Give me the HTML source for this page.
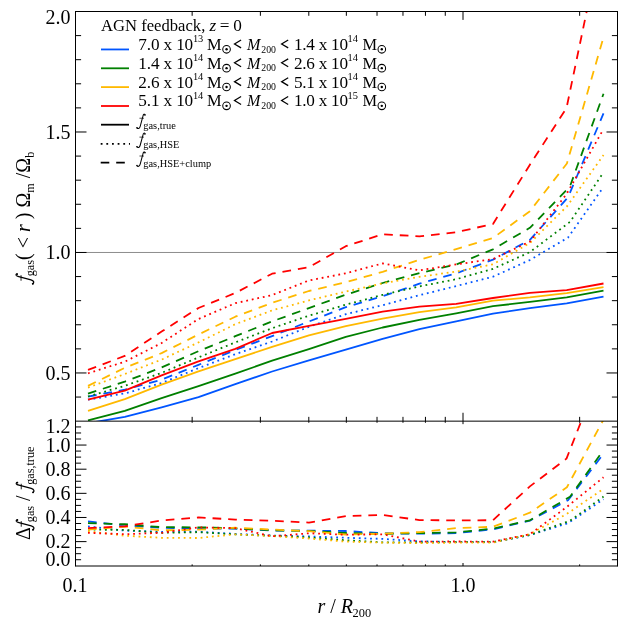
<!DOCTYPE html>
<html><head><meta charset="utf-8"><title>fgas</title>
<style>html,body{margin:0;padding:0;background:#fff;width:629px;height:629px;overflow:hidden}</style>
</head><body>
<svg width="629" height="629" viewBox="0 0 629 629" style="position:absolute;left:0;top:0">
<defs><clipPath id="cu"><rect x="75.5" y="11.5" width="542.0" height="409.6"/></clipPath><clipPath id="cl"><rect x="75.5" y="421.1" width="542.0" height="144.9"/></clipPath></defs>
<defs><g id="fi"><path d="M398 632 C392 668 358 688 326 672 C290 652 276 600 262 540 L98 -70 C82 -130 55 -190 2 -203 C-40 -213 -84 -196 -104 -166" fill="none" stroke="#000" stroke-width="64" stroke-linecap="round"/><circle cx="386" cy="622" r="46"/><circle cx="-98" cy="-158" r="46"/><path d="M52 428 L330 428" stroke="#000" stroke-width="44" fill="none"/></g></defs>
<rect width="629" height="629" fill="#fff"/>
<line x1="75.5" y1="252.47" x2="617.5" y2="252.47" stroke="#8c8c8c" stroke-width="1"/>
<g clip-path="url(#cu)" fill="none" stroke-width="1.80" stroke-linejoin="round">
<path d="M88.0 423.2 L124.8 416.9 L161.6 407.3 L198.5 397.2 L235.3 384.1 L272.1 371.5 L308.9 360.3 L345.8 349.6 L382.6 338.8 L419.4 329.2 L456.2 321.4 L493.0 313.7 L529.9 308.1 L566.7 303.3 L603.5 296.7" stroke="#0055ff"/>
<path d="M88.0 399.7 L124.8 393.4 L161.6 383.0 L198.5 368.1 L235.3 354.2 L272.1 341.5 L308.9 326.8 L345.8 314.2 L382.6 305.2 L419.4 295.2 L456.2 286.1 L493.0 276.7 L529.9 260.0 L568.0 237.6 L603.5 186.9" stroke="#0055ff" stroke-dasharray="1.8 3.85"/>
<path d="M88.0 396.6 L124.8 389.7 L161.6 379.7 L198.5 364.8 L235.3 350.0 L272.1 336.1 L308.9 321.5 L345.8 307.2 L382.6 296.2 L419.4 283.7 L456.2 273.3 L493.0 259.6 L529.9 239.9 L568.0 197.4 L603.5 113.4" stroke="#0055ff" stroke-dasharray="8.7 6.95"/>
<path d="M88.0 420.4 L124.8 410.9 L161.6 398.2 L198.5 386.1 L235.3 373.6 L272.1 360.7 L308.9 349.1 L345.8 336.9 L382.6 327.5 L419.4 319.8 L456.2 313.4 L493.0 306.2 L529.9 301.9 L566.7 297.4 L603.5 290.7" stroke="#008000"/>
<path d="M88.0 396.5 L124.8 385.8 L161.6 372.9 L198.5 357.4 L235.3 342.4 L272.1 328.2 L308.9 315.7 L345.8 304.7 L382.6 294.9 L419.4 286.4 L456.2 279.2 L493.0 268.9 L529.9 252.1 L570.0 221.9 L603.5 172.5" stroke="#008000" stroke-dasharray="1.8 3.85"/>
<path d="M88.0 393.6 L124.8 381.6 L161.6 367.5 L198.5 351.2 L235.3 336.2 L272.1 321.4 L308.9 308.1 L345.8 294.7 L382.6 283.0 L419.4 273.1 L456.2 264.5 L493.0 249.3 L529.9 227.8 L570.0 186.3 L603.5 93.8" stroke="#008000" stroke-dasharray="8.7 6.95"/>
<path d="M88.0 410.8 L124.8 399.1 L161.6 384.7 L198.5 371.4 L235.3 359.1 L272.1 346.8 L308.9 335.3 L345.8 326.1 L382.6 318.6 L419.4 312.1 L456.2 307.3 L493.0 300.6 L529.9 297.4 L566.7 293.1 L603.5 287.2" stroke="#ffb900"/>
<path d="M88.0 387.6 L124.8 374.0 L161.6 359.6 L198.5 342.4 L235.3 324.2 L272.1 310.4 L308.9 300.4 L345.8 291.6 L382.6 283.3 L419.4 276.8 L456.2 271.6 L493.0 264.3 L529.9 243.0 L566.9 206.4 L603.5 155.1" stroke="#ffb900" stroke-dasharray="1.8 3.85"/>
<path d="M88.0 385.9 L124.8 367.8 L161.6 353.1 L198.5 334.5 L235.3 316.7 L272.1 302.8 L308.9 291.0 L345.8 282.3 L382.6 271.8 L419.4 259.9 L456.2 249.1 L493.0 238.0 L529.9 211.2 L566.9 163.5 L603.5 37.3" stroke="#ffb900" stroke-dasharray="8.7 6.95"/>
<path d="M88.0 399.7 L124.8 390.6 L161.6 375.3 L198.5 361.3 L235.3 348.8 L272.1 333.0 L308.9 325.8 L345.8 318.8 L382.6 311.6 L419.4 306.6 L456.2 303.9 L493.0 298.0 L529.9 292.8 L566.7 290.1 L603.5 283.5" stroke="#ff0000"/>
<path d="M88.0 373.3 L124.8 361.7 L161.6 343.0 L198.5 319.0 L235.3 303.2 L272.1 295.1 L308.9 280.5 L345.8 273.3 L382.6 263.4 L419.4 270.4 L456.2 264.4 L493.0 259.1 L529.9 241.6 L566.5 194.1 L603.5 129.1" stroke="#ff0000" stroke-dasharray="1.8 3.85"/>
<path d="M88.0 369.9 L124.8 355.9 L161.6 331.6 L198.5 308.0 L235.3 293.0 L272.1 273.7 L308.9 267.3 L345.8 246.2 L382.6 234.3 L419.4 236.3 L456.2 232.3 L493.0 223.9 L529.9 164.7 L566.5 108.1 L603.5 -69.0" stroke="#ff0000" stroke-dasharray="8.7 6.95"/>
</g>
<g clip-path="url(#cl)" fill="none" stroke-width="1.80" stroke-linejoin="round">
<path d="M88.0 526.4 L124.8 530.6 L161.6 531.8 L198.5 531.7 L235.3 533.9 L272.1 535.5 L308.9 536.4 L345.8 537.8 L382.6 538.9 L419.4 541.3 L456.2 542.1 L493.0 542.2 L529.9 535.1 L568.0 523.2 L603.5 499.2" stroke="#0055ff" stroke-dasharray="1.8 3.85"/>
<path d="M88.0 521.3 L124.8 525.6 L161.6 527.8 L198.5 528.6 L235.3 528.7 L272.1 530.5 L308.9 530.7 L345.8 531.0 L382.6 533.3 L419.4 533.7 L456.2 533.1 L493.0 529.3 L529.9 520.6 L568.0 500.3 L603.5 453.8" stroke="#0055ff" stroke-dasharray="8.7 6.95"/>
<path d="M88.0 529.6 L124.8 529.9 L161.6 532.8 L198.5 532.2 L235.3 534.4 L272.1 535.8 L308.9 537.4 L345.8 540.3 L382.6 542.3 L419.4 542.5 L456.2 542.1 L493.0 542.2 L529.9 534.9 L570.0 520.8 L603.5 496.6" stroke="#008000" stroke-dasharray="1.8 3.85"/>
<path d="M88.0 523.2 L124.8 524.2 L161.6 527.2 L198.5 527.3 L235.3 528.3 L272.1 530.3 L308.9 530.9 L345.8 533.0 L382.6 533.8 L419.4 533.1 L456.2 532.4 L493.0 528.6 L529.9 520.3 L570.0 496.8 L603.5 450.1" stroke="#008000" stroke-dasharray="8.7 6.95"/>
<path d="M88.0 531.2 L124.8 535.7 L161.6 537.8 L198.5 538.0 L235.3 534.3 L272.1 536.1 L308.9 538.5 L345.8 541.6 L382.6 542.6 L419.4 543.1 L456.2 542.7 L493.0 542.7 L529.9 534.1 L566.9 513.9 L603.5 488.8" stroke="#ffb900" stroke-dasharray="1.8 3.85"/>
<path d="M88.0 529.6 L124.8 526.5 L161.6 530.3 L198.5 529.7 L235.3 527.7 L272.1 529.5 L308.9 531.2 L345.8 534.5 L382.6 533.7 L419.4 532.1 L456.2 528.1 L493.0 526.8 L529.9 512.7 L566.9 487.3 L603.5 419.6" stroke="#ffb900" stroke-dasharray="8.7 6.95"/>
<path d="M88.0 532.8 L124.8 534.2 L161.6 532.8 L198.5 527.4 L235.3 528.1 L272.1 536.3 L308.9 533.3 L345.8 534.7 L382.6 534.3 L419.4 541.6 L456.2 541.5 L493.0 541.6 L529.9 534.2 L566.5 507.2 L603.5 477.3" stroke="#ff0000" stroke-dasharray="1.8 3.85"/>
<path d="M88.0 528.1 L124.8 526.3 L161.6 520.5 L198.5 517.4 L235.3 519.6 L272.1 520.7 L308.9 522.6 L345.8 516.1 L382.6 514.9 L419.4 520.1 L456.2 520.4 L493.0 520.2 L529.9 486.4 L566.5 458.6 L603.5 364.9" stroke="#ff0000" stroke-dasharray="8.7 6.95"/>
</g>
<path d="M75.50 11.50 L617.50 11.50 M75.50 421.15 L617.50 421.15 M75.50 566.00 L617.50 566.00 M75.50 11.00 L75.50 566.50 M617.50 11.00 L617.50 566.50 M192.15 11.50 L192.15 15.80 M192.15 421.15 L192.15 416.85 M192.15 421.15 L192.15 422.75 M192.15 566.00 L192.15 564.40 M260.38 11.50 L260.38 15.80 M260.38 421.15 L260.38 416.85 M260.38 421.15 L260.38 422.75 M260.38 566.00 L260.38 564.40 M308.80 11.50 L308.80 15.80 M308.80 421.15 L308.80 416.85 M308.80 421.15 L308.80 422.75 M308.80 566.00 L308.80 564.40 M346.35 11.50 L346.35 15.80 M346.35 421.15 L346.35 416.85 M346.35 421.15 L346.35 422.75 M346.35 566.00 L346.35 564.40 M377.03 11.50 L377.03 15.80 M377.03 421.15 L377.03 416.85 M377.03 421.15 L377.03 422.75 M377.03 566.00 L377.03 564.40 M402.98 11.50 L402.98 15.80 M402.98 421.15 L402.98 416.85 M402.98 421.15 L402.98 422.75 M402.98 566.00 L402.98 564.40 M425.45 11.50 L425.45 15.80 M425.45 421.15 L425.45 416.85 M425.45 421.15 L425.45 422.75 M425.45 566.00 L425.45 564.40 M445.27 11.50 L445.27 15.80 M445.27 421.15 L445.27 416.85 M445.27 421.15 L445.27 422.75 M445.27 566.00 L445.27 564.40 M463.00 11.50 L463.00 19.90 M463.00 421.15 L463.00 412.75 M463.00 421.15 L463.00 424.15 M463.00 566.00 L463.00 563.00 M579.65 11.50 L579.65 15.80 M579.65 421.15 L579.65 416.85 M579.65 421.15 L579.65 422.75 M579.65 566.00 L579.65 564.40 M75.50 397.05 L81.10 397.05 M617.50 397.05 L611.90 397.05 M75.50 372.96 L86.50 372.96 M617.50 372.96 L606.50 372.96 M75.50 348.86 L81.10 348.86 M617.50 348.86 L611.90 348.86 M75.50 324.76 L81.10 324.76 M617.50 324.76 L611.90 324.76 M75.50 300.66 L81.10 300.66 M617.50 300.66 L611.90 300.66 M75.50 276.57 L81.10 276.57 M617.50 276.57 L611.90 276.57 M75.50 252.47 L86.50 252.47 M617.50 252.47 L606.50 252.47 M75.50 228.37 L81.10 228.37 M617.50 228.37 L611.90 228.37 M75.50 204.28 L81.10 204.28 M617.50 204.28 L611.90 204.28 M75.50 180.18 L81.10 180.18 M617.50 180.18 L611.90 180.18 M75.50 156.08 L81.10 156.08 M617.50 156.08 L611.90 156.08 M75.50 131.99 L86.50 131.99 M617.50 131.99 L606.50 131.99 M75.50 107.89 L81.10 107.89 M617.50 107.89 L611.90 107.89 M75.50 83.79 L81.10 83.79 M617.50 83.79 L611.90 83.79 M75.50 59.69 L81.10 59.69 M617.50 59.69 L611.90 59.69 M75.50 35.60 L81.10 35.60 M617.50 35.60 L611.90 35.60 M75.50 559.72 L81.10 559.72 M617.50 559.72 L611.90 559.72 M75.50 553.68 L81.10 553.68 M617.50 553.68 L611.90 553.68 M75.50 547.64 L81.10 547.64 M617.50 547.64 L611.90 547.64 M75.50 541.61 L86.50 541.61 M617.50 541.61 L606.50 541.61 M75.50 535.58 L81.10 535.58 M617.50 535.58 L611.90 535.58 M75.50 529.54 L81.10 529.54 M617.50 529.54 L611.90 529.54 M75.50 523.50 L81.10 523.50 M617.50 523.50 L611.90 523.50 M75.50 517.47 L86.50 517.47 M617.50 517.47 L606.50 517.47 M75.50 511.44 L81.10 511.44 M617.50 511.44 L611.90 511.44 M75.50 505.40 L81.10 505.40 M617.50 505.40 L611.90 505.40 M75.50 499.37 L81.10 499.37 M617.50 499.37 L611.90 499.37 M75.50 493.33 L86.50 493.33 M617.50 493.33 L606.50 493.33 M75.50 487.30 L81.10 487.30 M617.50 487.30 L611.90 487.30 M75.50 481.26 L81.10 481.26 M617.50 481.26 L611.90 481.26 M75.50 475.23 L81.10 475.23 M617.50 475.23 L611.90 475.23 M75.50 469.19 L86.50 469.19 M617.50 469.19 L606.50 469.19 M75.50 463.15 L81.10 463.15 M617.50 463.15 L611.90 463.15 M75.50 457.12 L81.10 457.12 M617.50 457.12 L611.90 457.12 M75.50 451.08 L81.10 451.08 M617.50 451.08 L611.90 451.08 M75.50 445.05 L86.50 445.05 M617.50 445.05 L606.50 445.05 M75.50 439.01 L81.10 439.01 M617.50 439.01 L611.90 439.01 M75.50 432.98 L81.10 432.98 M617.50 432.98 L611.90 432.98 M75.50 426.94 L81.10 426.94 M617.50 426.94 L611.90 426.94" stroke="#000" stroke-width="1" fill="none"/>
<line x1="101.0" y1="49.45" x2="129.0" y2="49.45" stroke="#0055ff" stroke-width="1.80"/>
<line x1="101.0" y1="68.30" x2="129.0" y2="68.30" stroke="#008000" stroke-width="1.80"/>
<line x1="101.0" y1="87.10" x2="129.0" y2="87.10" stroke="#ffb900" stroke-width="1.80"/>
<line x1="101.0" y1="106.00" x2="129.0" y2="106.00" stroke="#ff0000" stroke-width="1.80"/>
<line x1="101.0" y1="124.70" x2="129.0" y2="124.70" stroke="#000" stroke-width="1.80"/>
<line x1="100.7" y1="143.90" x2="130.0" y2="143.90" stroke="#000" stroke-width="1.80" stroke-dasharray="1.8 3.85"/>
<line x1="100.7" y1="162.70" x2="129.0" y2="162.70" stroke="#000" stroke-width="1.80" stroke-dasharray="8.6 6.9"/>
<g font-family="'Liberation Serif', serif" fill="#000" opacity="0.999">
<text x="101.1" y="31.20" font-size="17.20" textLength="104.2" lengthAdjust="spacingAndGlyphs">AGN feedback,</text>
<text x="209.40" y="31.20" font-size="17.20" text-anchor="start" font-style="italic">z</text>
<text x="219.80" y="31.20" font-size="17.20" text-anchor="start">=</text>
<text x="233.20" y="31.20" font-size="17.20" text-anchor="start">0</text>
<text x="138.30" y="49.90" font-size="17.20" text-anchor="start" textLength="54.9" lengthAdjust="spacing">7.0 x 10</text>
<text x="192.90" y="42.30" font-size="10.40" text-anchor="start">13</text>
<text x="207.10" y="49.90" font-size="17.20" text-anchor="start" textLength="14.6" lengthAdjust="spacingAndGlyphs">M</text>
<circle cx="226.55" cy="49.30" r="3.8" fill="none" stroke="#000" stroke-width="1.05"/><circle cx="226.55" cy="49.30" r="1.2" fill="#000"/>
<path d="M241.10 40.00 L234.50 43.95 L241.10 47.90" fill="none" stroke="#000" stroke-width="1.25" stroke-linejoin="miter"/>
<text x="246.90" y="49.90" font-size="17.20" text-anchor="start" font-style="italic" textLength="13.4" lengthAdjust="spacingAndGlyphs">M</text>
<text x="261.30" y="52.50" font-size="9.80" text-anchor="start">200</text>
<path d="M288.20 40.00 L281.60 43.95 L288.20 47.90" fill="none" stroke="#000" stroke-width="1.25" stroke-linejoin="miter"/>
<text x="294.00" y="49.90" font-size="17.20" text-anchor="start" textLength="54.0" lengthAdjust="spacing">1.4 x 10</text>
<text x="347.60" y="42.30" font-size="10.40" text-anchor="start">14</text>
<text x="362.50" y="49.90" font-size="17.20" text-anchor="start" textLength="14.6" lengthAdjust="spacingAndGlyphs">M</text>
<circle cx="381.80" cy="49.30" r="3.8" fill="none" stroke="#000" stroke-width="1.05"/><circle cx="381.80" cy="49.30" r="1.2" fill="#000"/>
<text x="138.30" y="68.75" font-size="17.20" text-anchor="start" textLength="54.9" lengthAdjust="spacing">1.4 x 10</text>
<text x="192.90" y="61.15" font-size="10.40" text-anchor="start">14</text>
<text x="207.10" y="68.75" font-size="17.20" text-anchor="start" textLength="14.6" lengthAdjust="spacingAndGlyphs">M</text>
<circle cx="226.55" cy="68.15" r="3.8" fill="none" stroke="#000" stroke-width="1.05"/><circle cx="226.55" cy="68.15" r="1.2" fill="#000"/>
<path d="M241.10 58.85 L234.50 62.80 L241.10 66.75" fill="none" stroke="#000" stroke-width="1.25" stroke-linejoin="miter"/>
<text x="246.90" y="68.75" font-size="17.20" text-anchor="start" font-style="italic" textLength="13.4" lengthAdjust="spacingAndGlyphs">M</text>
<text x="261.30" y="71.35" font-size="9.80" text-anchor="start">200</text>
<path d="M288.20 58.85 L281.60 62.80 L288.20 66.75" fill="none" stroke="#000" stroke-width="1.25" stroke-linejoin="miter"/>
<text x="294.00" y="68.75" font-size="17.20" text-anchor="start" textLength="54.0" lengthAdjust="spacing">2.6 x 10</text>
<text x="347.60" y="61.15" font-size="10.40" text-anchor="start">14</text>
<text x="362.50" y="68.75" font-size="17.20" text-anchor="start" textLength="14.6" lengthAdjust="spacingAndGlyphs">M</text>
<circle cx="381.80" cy="68.15" r="3.8" fill="none" stroke="#000" stroke-width="1.05"/><circle cx="381.80" cy="68.15" r="1.2" fill="#000"/>
<text x="138.30" y="87.60" font-size="17.20" text-anchor="start" textLength="54.9" lengthAdjust="spacing">2.6 x 10</text>
<text x="192.90" y="80.00" font-size="10.40" text-anchor="start">14</text>
<text x="207.10" y="87.60" font-size="17.20" text-anchor="start" textLength="14.6" lengthAdjust="spacingAndGlyphs">M</text>
<circle cx="226.55" cy="87.00" r="3.8" fill="none" stroke="#000" stroke-width="1.05"/><circle cx="226.55" cy="87.00" r="1.2" fill="#000"/>
<path d="M241.10 77.70 L234.50 81.65 L241.10 85.60" fill="none" stroke="#000" stroke-width="1.25" stroke-linejoin="miter"/>
<text x="246.90" y="87.60" font-size="17.20" text-anchor="start" font-style="italic" textLength="13.4" lengthAdjust="spacingAndGlyphs">M</text>
<text x="261.30" y="90.20" font-size="9.80" text-anchor="start">200</text>
<path d="M288.20 77.70 L281.60 81.65 L288.20 85.60" fill="none" stroke="#000" stroke-width="1.25" stroke-linejoin="miter"/>
<text x="294.00" y="87.60" font-size="17.20" text-anchor="start" textLength="54.0" lengthAdjust="spacing">5.1 x 10</text>
<text x="347.60" y="80.00" font-size="10.40" text-anchor="start">14</text>
<text x="362.50" y="87.60" font-size="17.20" text-anchor="start" textLength="14.6" lengthAdjust="spacingAndGlyphs">M</text>
<circle cx="381.80" cy="87.00" r="3.8" fill="none" stroke="#000" stroke-width="1.05"/><circle cx="381.80" cy="87.00" r="1.2" fill="#000"/>
<text x="138.30" y="106.45" font-size="17.20" text-anchor="start" textLength="54.9" lengthAdjust="spacing">5.1 x 10</text>
<text x="192.90" y="98.85" font-size="10.40" text-anchor="start">14</text>
<text x="207.10" y="106.45" font-size="17.20" text-anchor="start" textLength="14.6" lengthAdjust="spacingAndGlyphs">M</text>
<circle cx="226.55" cy="105.85" r="3.8" fill="none" stroke="#000" stroke-width="1.05"/><circle cx="226.55" cy="105.85" r="1.2" fill="#000"/>
<path d="M241.10 96.55 L234.50 100.50 L241.10 104.45" fill="none" stroke="#000" stroke-width="1.25" stroke-linejoin="miter"/>
<text x="246.90" y="106.45" font-size="17.20" text-anchor="start" font-style="italic" textLength="13.4" lengthAdjust="spacingAndGlyphs">M</text>
<text x="261.30" y="109.05" font-size="9.80" text-anchor="start">200</text>
<path d="M288.20 96.55 L281.60 100.50 L288.20 104.45" fill="none" stroke="#000" stroke-width="1.25" stroke-linejoin="miter"/>
<text x="294.00" y="106.45" font-size="17.20" text-anchor="start" textLength="54.0" lengthAdjust="spacing">1.0 x 10</text>
<text x="347.60" y="98.85" font-size="10.40" text-anchor="start">15</text>
<text x="362.50" y="106.45" font-size="17.20" text-anchor="start" textLength="14.6" lengthAdjust="spacingAndGlyphs">M</text>
<circle cx="381.80" cy="105.85" r="3.8" fill="none" stroke="#000" stroke-width="1.05"/><circle cx="381.80" cy="105.85" r="1.2" fill="#000"/>
<use href="#fi" transform="translate(138.60,125.20) scale(0.01630,-0.01630)"/>
<text x="143.30" y="128.70" font-size="10.40" text-anchor="start">gas,true</text>
<use href="#fi" transform="translate(138.60,144.10) scale(0.01630,-0.01630)"/>
<text x="143.30" y="147.60" font-size="10.40" text-anchor="start">gas,HSE</text>
<use href="#fi" transform="translate(138.60,163.00) scale(0.01630,-0.01630)"/>
<text x="143.30" y="166.50" font-size="10.40" text-anchor="start">gas,HSE+clump</text>
<text x="70.60" y="138.74" font-size="20.00" text-anchor="end">1.5</text>
<text x="70.60" y="259.22" font-size="20.00" text-anchor="end">1.0</text>
<text x="70.60" y="379.71" font-size="20.00" text-anchor="end">0.5</text>
<text x="70.60" y="24.00" font-size="20.00" text-anchor="end">2.0</text>
<text x="70.60" y="451.80" font-size="20.00" text-anchor="end">1.0</text>
<text x="70.60" y="475.94" font-size="20.00" text-anchor="end">0.8</text>
<text x="70.60" y="500.08" font-size="20.00" text-anchor="end">0.6</text>
<text x="70.60" y="524.22" font-size="20.00" text-anchor="end">0.4</text>
<text x="70.60" y="548.36" font-size="20.00" text-anchor="end">0.2</text>
<text x="70.60" y="433.20" font-size="20.00" text-anchor="end">1.2</text>
<text x="70.60" y="566.30" font-size="20.00" text-anchor="end">0.0</text>
<text x="74.90" y="591.60" font-size="20.00" text-anchor="middle">0.1</text>
<text x="463.00" y="591.60" font-size="20.00" text-anchor="middle">1.0</text>
<text x="317.5" y="612.8" font-size="20.00"><tspan font-style="italic">r</tspan> / <tspan font-style="italic">R</tspan></text>
<text x="352.60" y="617.20" font-size="12.40" text-anchor="start">200</text>
<g transform="translate(29.6,281.8) rotate(-90)">
<use href="#fi" transform="translate(0.00,0.00) scale(0.02000,-0.02000)"/>
<text x="5.56" y="0" font-size="20.00"><tspan font-size="12.20" dy="4.2">gas</tspan><tspan dy="-4.2">( &lt; </tspan><tspan font-style="italic">r</tspan> ) Ω<tspan font-size="12.20" dy="4.2">m</tspan><tspan dy="-4.2"> /Ω</tspan><tspan font-size="12.20" dy="4.2">b</tspan></text>
</g>
<g transform="translate(29.8,540.0) rotate(-90)">
<text x="0" y="0" font-size="20.00">Δ</text>
<use href="#fi" transform="translate(12.24,0.00) scale(0.02000,-0.02000)"/>
<text x="17.80" y="0" font-size="20.00"><tspan font-size="12.20" dy="4.2">gas</tspan><tspan dy="-4.2"> / </tspan></text>
<use href="#fi" transform="translate(49.62,0.00) scale(0.02000,-0.02000)"/>
<text x="55.18" y="4.2" font-size="12.20">gas,true</text>
</g>
</g>
</svg>
</body></html>
